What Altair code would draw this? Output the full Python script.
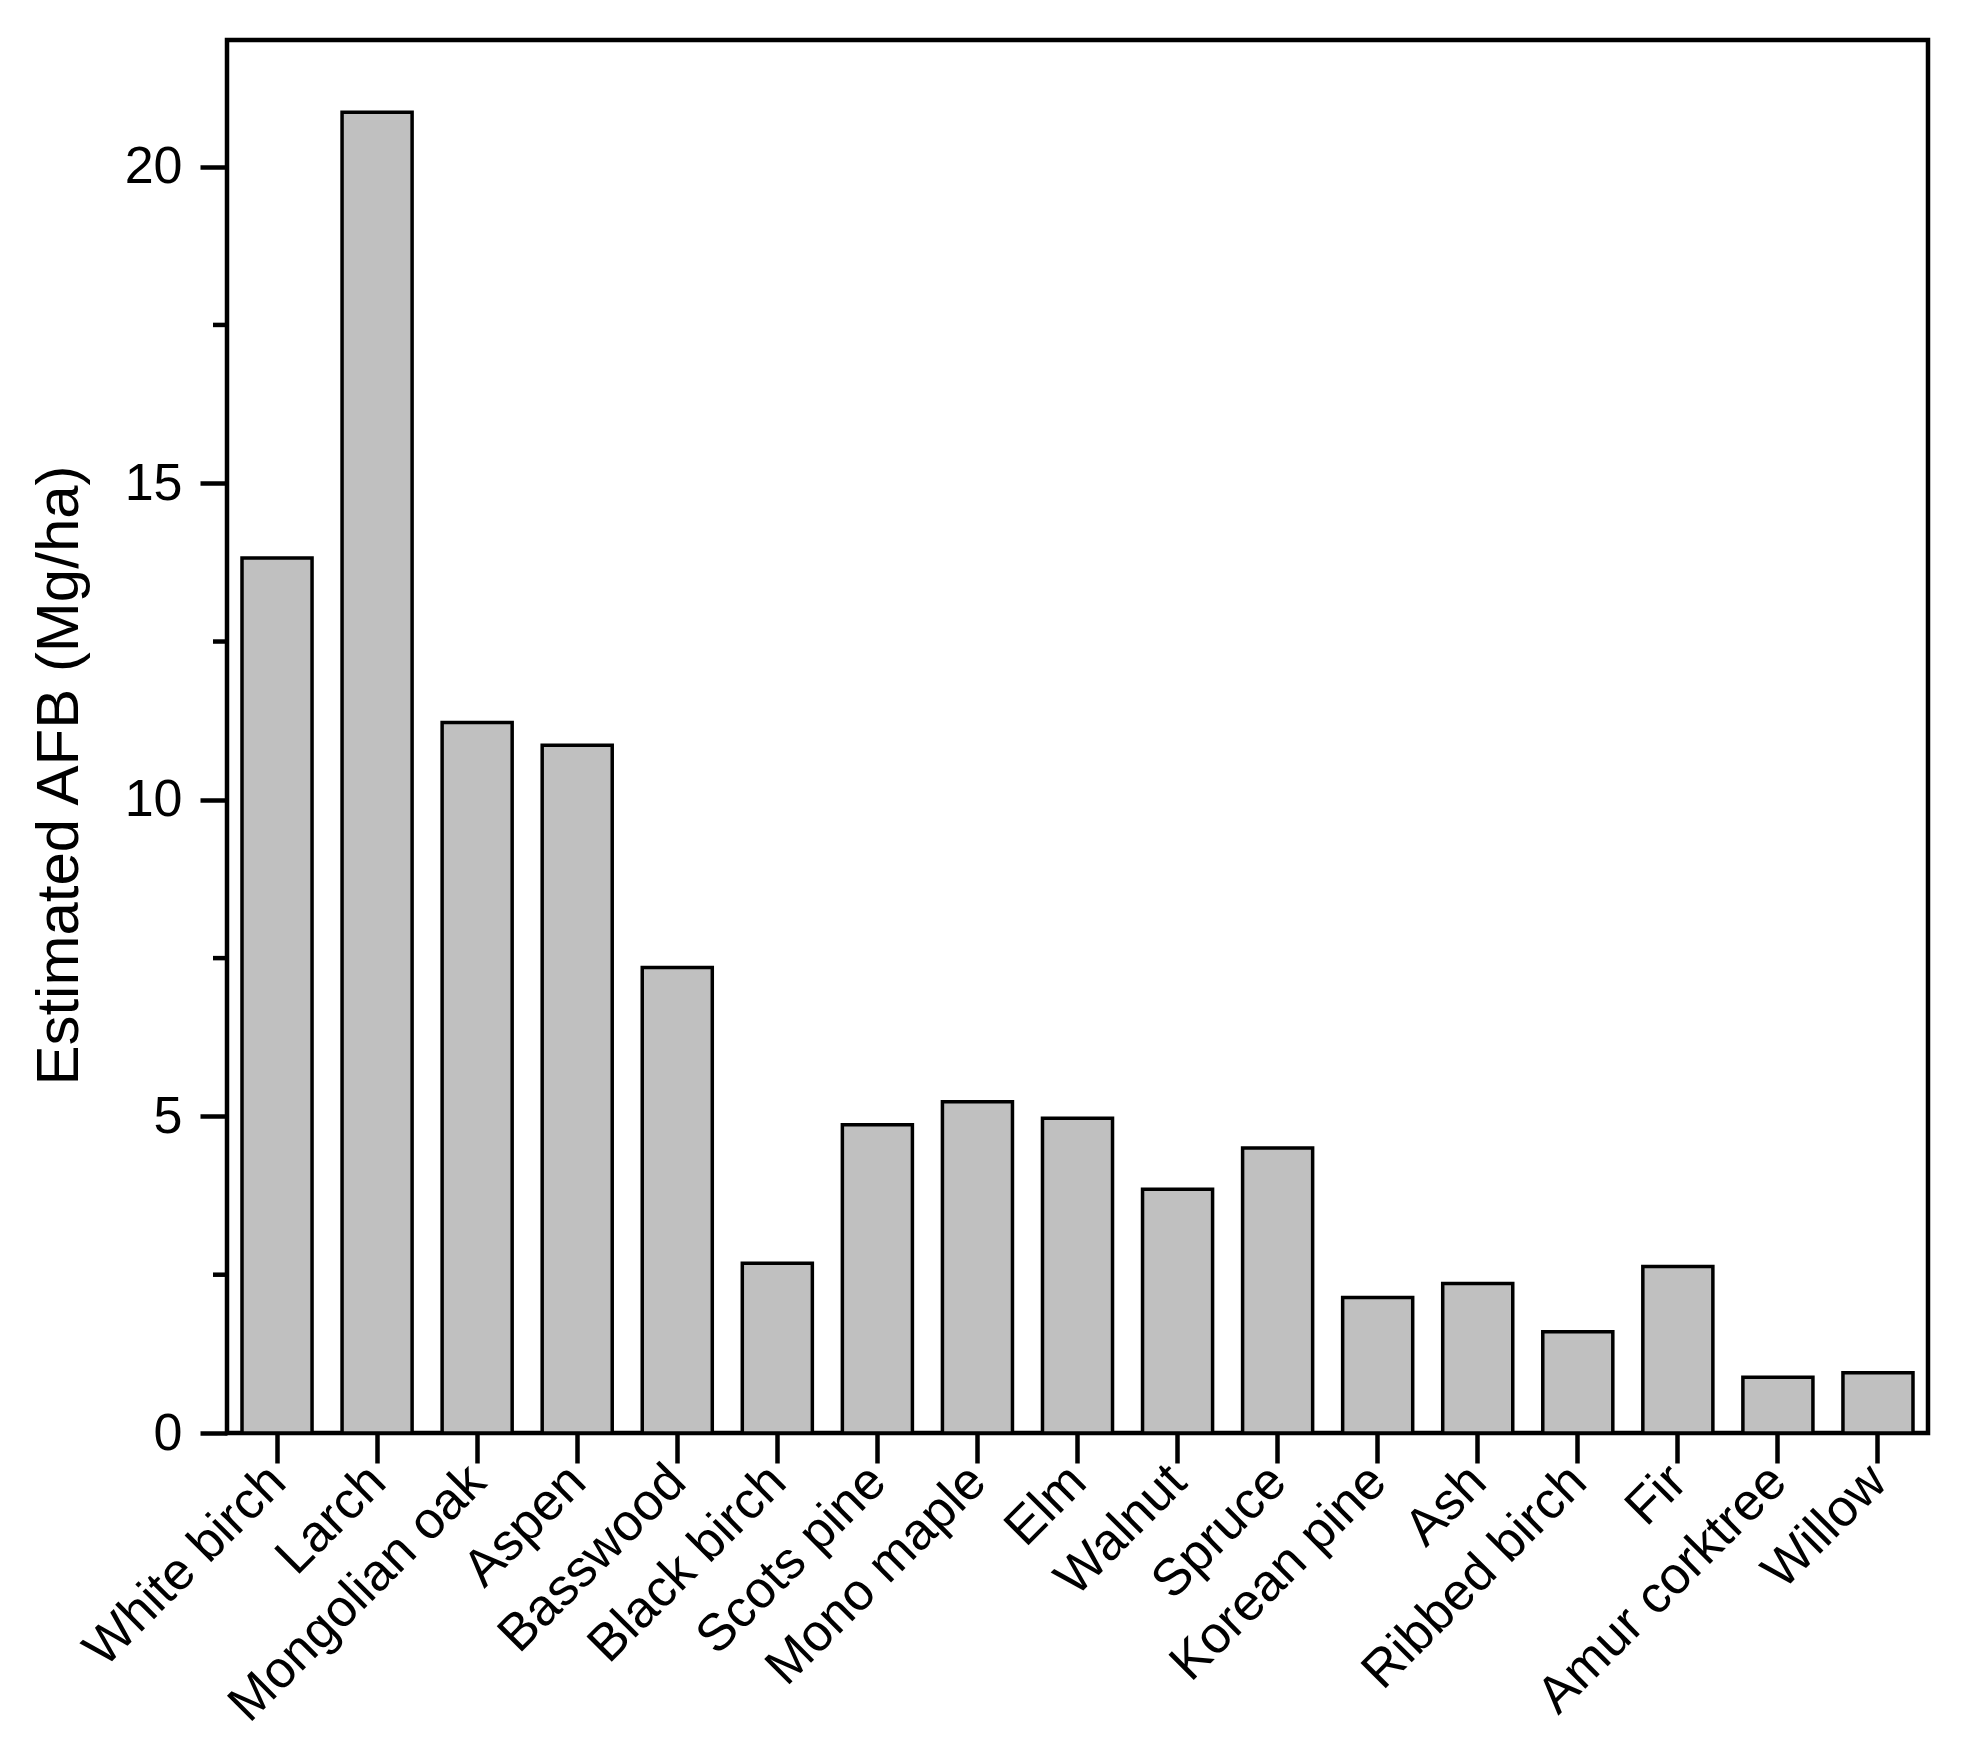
import altair as alt
import pandas as pd

species = ["White birch", "Larch", "Mongolian oak", "Aspen", "Basswood",
           "Black birch", "Scots pine", "Mono maple", "Elm", "Walnut",
           "Spruce", "Korean pine", "Ash", "Ribbed birch", "Fir",
           "Amur corktree", "Willow"]
afb = [13.82, 20.86, 11.22, 10.86, 7.35, 2.68, 4.87, 5.23, 4.97, 3.85,
       4.50, 2.14, 2.36, 1.60, 2.63, 0.88, 0.95]
major_ticks = [0, 5, 10, 15, 20]
minor_ticks = [2.5, 7.5, 12.5, 17.5]

df = pd.DataFrame({"species": species, "afb": afb})
minor_df = pd.DataFrame({"v": minor_ticks})

FONT = "Liberation Sans"

yscale = alt.Scale(domain=[0, 22], nice=False, zero=True)

bars = alt.Chart(df).mark_bar(
    fill="#c0c0c0", stroke="black", strokeWidth=3.5
).encode(
    x=alt.X("species:N", sort=species,
            scale=alt.Scale(paddingInner=0.3, paddingOuter=0.15),
            axis=alt.Axis(title=None, labelAngle=-45, labelAlign="right",
                          labelBaseline="middle", labelFontSize=52,
                          labelFont=FONT, labelColor="black",
                          labelPadding=10, tickSize=30, tickWidth=4.5,
                          tickColor="black", domain=False, labelLimit=0)),
    y=alt.Y("afb:Q", scale=yscale,
            axis=alt.Axis(title="Estimated AFB (Mg/ha)", values=major_ticks,
                          format="d",
                          grid=False, domain=False, tickSize=27, tickWidth=4.5,
                          tickColor="black", labelFontSize=52, labelFont=FONT,
                          labelColor="black", labelPadding=18,
                          titleFontSize=60, titleFont=FONT,
                          titleFontWeight="normal", titleColor="black",
                          titleAngle=-90, titleAlign="center",
                          titleBaseline="middle", titleX=-168, titleY=735)),
)

minor = alt.Chart(minor_df).mark_rule(color="black", strokeWidth=4.5).encode(
    y=alt.Y("v:Q", scale=yscale),
    x=alt.value(-14),
    x2=alt.value(0),
)

chart = alt.layer(bars, minor).properties(
    width=1701, height=1393,
    background="white",
    autosize=alt.AutoSizeParams(type="none"),
    padding={"left": 219, "top": 32, "right": 40, "bottom": 300},
).configure_view(stroke="black", strokeWidth=4.5)

chart.save("out.html", embed_options={"renderer": "svg", "actions": False})
